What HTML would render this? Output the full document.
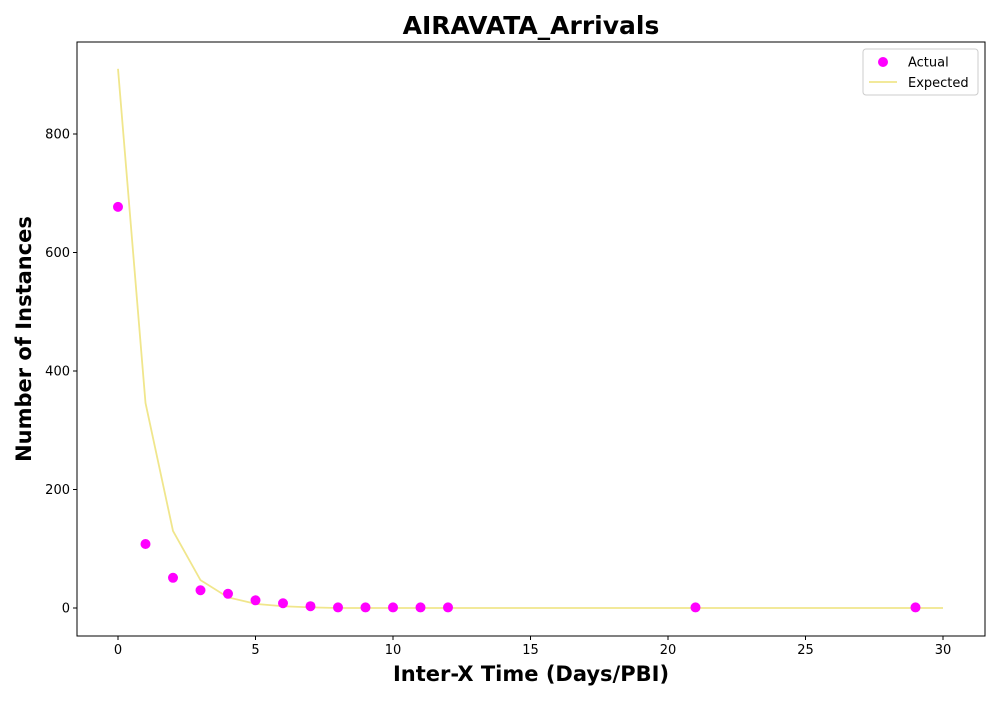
<!DOCTYPE html>
<html><head><meta charset="utf-8"><style>
body{margin:0;background:#fff;font-family:"DejaVu Sans","Liberation Sans",sans-serif;}
</style></head><body>
<svg id="chart" width="1000" height="700" xmlns="http://www.w3.org/2000/svg" font-family="DejaVu Sans, Liberation Sans, sans-serif"></svg>
<script>
const actualX=[0,1,2,3,4,5,6,7,8,9,10,11,12,21,29];
const actualY=[677,108,51,30,24,13,8,3,1,1,1,1,1,1,1];
const expectedX=[0,1,2,3,4,5,6,7,8,9,10,11,12,13,14,15,16,17,18,19,20,21,22,23,24,25,26,27,28,29,30];
const expectedY=[910,346,130,47,18,7,3,1,0,0,0,0,0,0,0,0,0,0,0,0,0,0,0,0,0,0,0,0,0,0,0];
const xTicks=[0,5,10,15,20,25,30];
const yTicks=[0,200,400,600,800];
const NS="http://www.w3.org/2000/svg";
const svg=document.getElementById('chart');
const L=77,R=985,T=42,B=636;
const sx=v=>118+v*27.5;
const sy=v=>608-v*0.5925;
function mk(tag,attrs,parent){const e=document.createElementNS(NS,tag);for(const k in attrs)e.setAttribute(k,attrs[k]);(parent||svg).appendChild(e);return e;}
let t=mk('text',{x:531,y:34,'text-anchor':'middle','font-size':25,'font-weight':'bold'});t.textContent='AIRAVATA_Arrivals';


xTicks.forEach(v=>{
 const g=mk('g',{});
 
 
 mk('line',{x1:sx(v),x2:sx(v),y1:B,y2:B+4,stroke:'#000'},g);
 const tx=mk('text',{x:sx(v),y:B+18,'text-anchor':'middle','font-size':13},g);tx.textContent=v;
});
yTicks.forEach(v=>{
 const g=mk('g',{});
 
 
 mk('line',{x1:L-4,x2:L,y1:sy(v),y2:sy(v),stroke:'#000'},g);
 const tx=mk('text',{x:L-7,y:sy(v)+4.5,'text-anchor':'end','font-size':13},g);tx.textContent=v;
});
t=mk('text',{x:531,y:681,'text-anchor':'middle','font-size':21,'font-weight':'bold'});t.textContent='Inter-X Time (Days/PBI)';


t=mk('text',{x:0,y:0,'text-anchor':'middle','font-size':21,'font-weight':'bold',transform:'translate(31,339) rotate(-90)'});t.textContent='Number of Instances';


const pl=mk('polyline',{points:expectedX.map((x,i)=>sx(x)+','+sy(expectedY[i])).join(' '),fill:'none',stroke:'#f0e68c','stroke-width':1.8});


actualX.forEach((x,i)=>{
 const c=mk('circle',{cx:sx(x),cy:sy(actualY[i]),r:5,fill:'#ff00ff'});
 
 
});
const fr=mk('rect',{x:L,y:T,width:R-L,height:B-T,fill:'none',stroke:'#000','stroke-width':1});


const lg=mk('g',{});


mk('rect',{x:863,y:49,width:115,height:46,rx:3,fill:'#fff',stroke:'#ccc'},lg);
mk('circle',{cx:883,cy:62,r:5,fill:'#ff00ff'},lg);
let lt=mk('text',{x:908,y:66.5,'font-size':13},lg);lt.textContent='Actual';
mk('line',{x1:869,x2:897,y1:82,y2:82,stroke:'#f0e68c','stroke-width':1.8},lg);
lt=mk('text',{x:908,y:87,'font-size':13},lg);lt.textContent='Expected';
</script>
</body></html>
